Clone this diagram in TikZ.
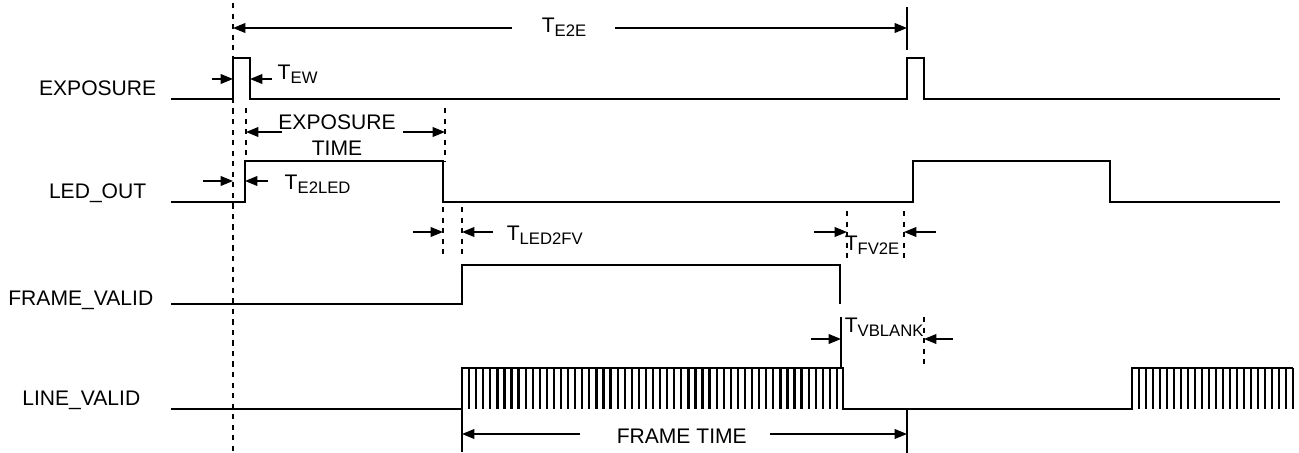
\documentclass[tikz,border=0pt]{standalone}
\usepackage{fontspec}
\setmainfont{Liberation Sans}
\usetikzlibrary{arrows.meta}
\newcommand{\Tsub}[1]{T\raisebox{-2.8pt}{\fontsize{9.5}{10}\selectfont #1}}

\begin{document}
\begin{tikzpicture}[x=0.02cm, y=-0.02cm, line width=0.85pt,
	dim/.style={-{Triangle[length=7pt,width=5.5pt]}},
	guide/.style={dash pattern=on 3pt off 3pt},
	lbl/.style={inner sep=0pt, font=\fontsize{12}{14}\selectfont}]
	\useasboundingbox (0,0) rectangle (1299,453);
	% signal names
	\node[lbl, anchor=base east] (nexp) at (157,95) {EXPOSURE};
	\node[lbl, anchor=base east] (nled) at (147,198) {LED\_OUT};
	\node[lbl, anchor=base east] (nfv) at (154,305) {FRAME\_VALID};
	\node[lbl, anchor=base east] (nlv) at (141,405) {LINE\_VALID};
	% waveforms
	\draw (171,99) -- (233,99) -- (233,58) -- (250,58) -- (250,99) -- (907,99) -- (907,58) -- (924,58) -- (924,99) -- (1280,99);
	\draw (171,202) -- (245,202) -- (245,161) -- (443,161) -- (443,202) -- (913,202) -- (913,161) -- (1110,161) -- (1110,202) -- (1280,202);
	\draw (171,304) -- (462,304) -- (462,265) -- (840,265) -- (840,304);
	\draw (171,409) -- (462,409) -- (462,368) -- (843,368) -- (843,409) -- (1132,409) -- (1132,368) -- (1293,368);
	\foreach \i in {1,...,53} {\draw[line width=1.3pt] ({462+\i*7.075},368) -- ({462+\i*7.075},409);}
	\foreach \i in {1,...,23} {\draw[line width=1.3pt] ({1132+\i*7},368) -- ({1132+\i*7},409);}
	% guide lines
	\draw[guide] (233,3) -- (233,452);
	\draw[guide] (246,108) -- (246,161);
	\draw[guide] (445,108) -- (445,161);
	\draw[guide] (443,207) -- (443,258);
	\draw[guide] (462,207) -- (462,258);
	\draw[guide] (847,211) -- (847,259);
	\draw[guide] (904,211) -- (904,259);
	\draw[guide] (924,317) -- (924,367);
	\draw (907,7) -- (907,50);
	\draw (841,317) -- (841,368);
	\draw (462,409) -- (462,452);
	\draw (907,409) -- (907,455);
	% timings
	\node[lbl, anchor=base west] (te2e) at (541,32) {\Tsub{E2E}};
	\draw[dim] (512,28) -- (233,28);
	\draw[dim] (615,28) -- (907,28);
	\node[lbl, anchor=base west] (tew) at (277,79) {\Tsub{EW}};
	\draw[dim] (212,79) -- (233,79);
	\draw[dim] (272,79) -- (250,79);
	\node[lbl, anchor=base] (texp) at (337,129) {EXPOSURE};
	\node[lbl, anchor=base] (ttime) at (337,155) {TIME};
	\draw[dim] (282,132) -- (246,132);
	\draw[dim] (403,132) -- (445,132);
	\node[lbl, anchor=base west] (te2led) at (284,189) {\Tsub{E2LED}};
	\draw[dim] (203,181) -- (233,181);
	\draw[dim] (268,181) -- (245,181);
	\node[lbl, anchor=base west] (tled2fv) at (506,240) {\Tsub{LED2FV}};
	\draw[dim] (413,232) -- (443,232);
	\draw[dim] (493,232) -- (462,232);
	\node[lbl, anchor=base west] (tfv2e) at (844,250) {\Tsub{FV2E}};
	\draw[dim] (814,232) -- (847,232);
	\draw[dim] (936,232) -- (904,232);
	\node[lbl, anchor=base west] (tvblank) at (844,332) {\Tsub{VBLANK}};
	\draw[dim] (811,339) -- (841,339);
	\draw[dim] (953,339) -- (924,339);
	\node[lbl, anchor=base west] (tframe) at (616,443) {FRAME TIME};
	\draw[dim] (580,434) -- (462,434);
	\draw[dim] (770,434) -- (907,434);
\end{tikzpicture}
\end{document}
